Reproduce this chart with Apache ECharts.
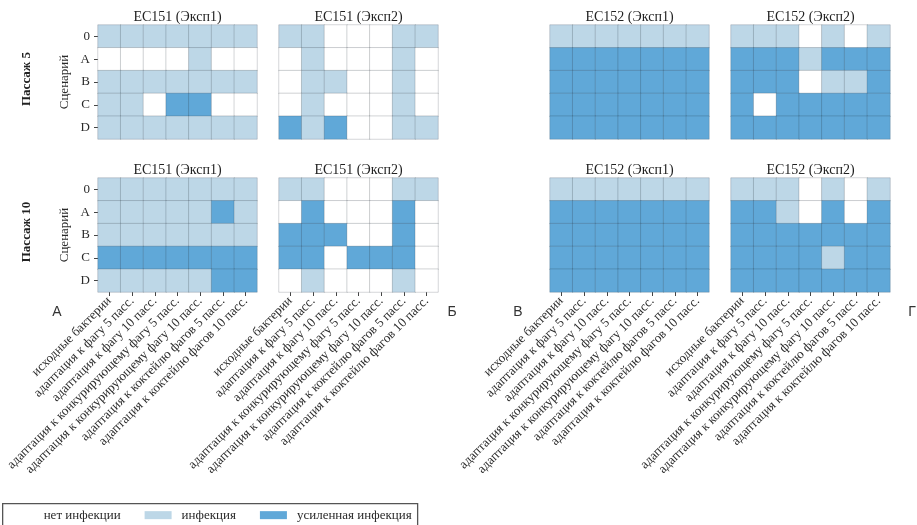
<!DOCTYPE html>
<html>
<head>
<meta charset="utf-8">
<script src="https://cdn.jsdelivr.net/npm/echarts@6/dist/echarts.min.js"></script>
<style>
  html, body { margin: 0; padding: 0; background: #fff; }
  #chart { width: 917px; height: 525px; }
</style>
</head>
<body>
<div id="chart"></div>
<script>
// Scenarios (rows) and adaptation conditions (columns)
const scenarios = ['0', 'A', 'B', 'C', 'D'];
const conditions = [
  'исходные бактерии',
  'адаптация к фагу 5 пасс.',
  'адаптация к фагу 10 пасс.',
  'адаптация к конкурирующему фагу 5 пасс.',
  'адаптация к конкурирующему фагу 10 пасс.',
  'адаптация к коктейлю фагов 5 пасс.',
  'адаптация к коктейлю фагов 10 пасс.'
];
const levelNames = ['нет инфекции', 'инфекция', 'усиленная инфекция'];

// Infection level per scenario row: 0 = none, 1 = infection, 2 = enhanced
const p5_ec151_exp1 = [
  [1, 1, 1, 1, 1, 1, 1],
  [0, 0, 0, 0, 1, 0, 0],
  [1, 1, 1, 1, 1, 1, 1],
  [1, 1, 0, 2, 2, 0, 0],
  [1, 1, 1, 1, 1, 1, 1]
];
const p5_ec151_exp2 = [
  [1, 1, 0, 0, 0, 1, 1],
  [0, 1, 0, 0, 0, 1, 0],
  [0, 1, 1, 0, 0, 1, 0],
  [0, 1, 0, 0, 0, 1, 0],
  [2, 1, 2, 0, 0, 1, 1]
];
const p5_ec152_exp1 = [
  [1, 1, 1, 1, 1, 1, 1],
  [2, 2, 2, 2, 2, 2, 2],
  [2, 2, 2, 2, 2, 2, 2],
  [2, 2, 2, 2, 2, 2, 2],
  [2, 2, 2, 2, 2, 2, 2]
];
const p5_ec152_exp2 = [
  [1, 1, 1, 0, 1, 0, 1],
  [2, 2, 2, 1, 2, 2, 2],
  [2, 2, 2, 0, 1, 1, 2],
  [2, 0, 2, 2, 2, 2, 2],
  [2, 2, 2, 2, 2, 2, 2]
];
const p10_ec151_exp1 = [
  [1, 1, 1, 1, 1, 1, 1],
  [1, 1, 1, 1, 1, 2, 1],
  [1, 1, 1, 1, 1, 1, 1],
  [2, 2, 2, 2, 2, 2, 2],
  [1, 1, 1, 1, 1, 2, 2]
];
const p10_ec151_exp2 = [
  [1, 1, 0, 0, 0, 1, 1],
  [0, 2, 0, 0, 0, 2, 0],
  [2, 2, 2, 0, 0, 2, 0],
  [2, 2, 0, 2, 2, 2, 0],
  [0, 1, 0, 0, 0, 1, 0]
];
const p10_ec152_exp1 = [
  [1, 1, 1, 1, 1, 1, 1],
  [2, 2, 2, 2, 2, 2, 2],
  [2, 2, 2, 2, 2, 2, 2],
  [2, 2, 2, 2, 2, 2, 2],
  [2, 2, 2, 2, 2, 2, 2]
];
const p10_ec152_exp2 = [
  [1, 1, 1, 0, 1, 0, 1],
  [2, 2, 1, 0, 2, 0, 2],
  [2, 2, 2, 2, 2, 2, 2],
  [2, 2, 2, 2, 1, 2, 2],
  [2, 2, 2, 2, 2, 2, 2]
];

const panelTitles = ['EC151 (Эксп1)', 'EC151 (Эксп2)', 'EC152 (Эксп1)', 'EC152 (Эксп2)'];
const passageLabels = ['Пассаж 5', 'Пассаж 10'];
const panelLetters = ['А', 'Б', 'В', 'Г'];

const panels = [
  p5_ec151_exp1, p5_ec151_exp2, p5_ec152_exp1, p5_ec152_exp2,
  p10_ec151_exp1, p10_ec151_exp2, p10_ec152_exp1, p10_ec152_exp2
];

const SERIF = '"Liberation Serif", "DejaVu Serif", serif';
const COLORS = ['#ffffff', '#bdd7e7', '#60a8d8'];

// Layout of the 2 x 4 panel grid
const colLeft = [98, 279, 550, 731];
const rowTop = [25, 178];
const cellW = 159, cellH = 114;

const grids = [], xAxes = [], yAxes = [], series = [], titles = [];

panels.forEach((mat, i) => {
  const r = Math.floor(i / 4), c = i % 4;
  const isBottom = r === 1, isLeft = c === 0;
  grids.push({ left: colLeft[c], top: rowTop[r], width: cellW, height: cellH });
  xAxes.push({
    type: 'category', gridIndex: i, data: conditions,
    axisLine: { show: false },
    axisTick: { show: isBottom, alignWithLabel: true, length: 4, lineStyle: { color: '#444' } },
    axisLabel: {
      show: isBottom, rotate: 45, margin: 7, interval: 0,
      fontFamily: SERIF, fontSize: 13, color: '#2a2a2a'
    },
    splitLine: { show: false }
  });
  yAxes.push({
    type: 'category', gridIndex: i, data: scenarios, inverse: true,
    axisLine: { show: false },
    axisTick: { show: isLeft, alignWithLabel: true, length: 4, lineStyle: { color: '#444' } },
    axisLabel: { show: isLeft, margin: 8, fontFamily: SERIF, fontSize: 13, color: '#2a2a2a' },
    name: isLeft ? 'Сценарий' : '',
    nameLocation: 'middle', nameRotate: 90, nameGap: 27,
    nameTextStyle: { fontFamily: SERIF, fontSize: 13, color: '#2a2a2a' },
    splitLine: { show: false }
  });
  const data = [];
  mat.forEach((row, yi) => row.forEach((v, xi) => data.push([xi, yi, v])));
  series.push({
    type: 'heatmap', xAxisIndex: i, yAxisIndex: i, data: data,
    itemStyle: { borderColor: 'rgba(40,50,60,0.2)', borderWidth: 1 },
    emphasis: { disabled: true }
  });
  titles.push({
    text: panelTitles[c],
    left: colLeft[c] + cellW / 2, top: rowTop[r] - 15,
    textAlign: 'center', padding: 0,
    textStyle: { fontFamily: SERIF, fontSize: 14, fontWeight: 'normal', color: '#222' }
  });
});

// Panel letters under the bottom row
const letterX = [57, 452, 518, 912];
letterX.forEach((x, k) => {
  titles.push({
    text: panelLetters[k], left: x, top: 305, textAlign: 'center', padding: 0,
    textStyle: { fontFamily: '"Liberation Sans", "DejaVu Sans", sans-serif', fontSize: 14, fontWeight: 'normal', color: '#333' }
  });
});

const chart = echarts.init(document.getElementById('chart'), null, { renderer: 'canvas' });
chart.setOption({
  animation: false,
  backgroundColor: '#fff',
  title: titles,
  grid: grids,
  xAxis: xAxes,
  yAxis: yAxes,
  series: series,
  visualMap: {
    type: 'piecewise', orient: 'horizontal',
    seriesIndex: series.map((s, k) => k), dimension: 2,
    pieces: levelNames.map((name, v) => ({ value: v, label: name, color: COLORS[v] })),
    left: 2, top: 503,
    itemWidth: 27, itemHeight: 8, itemGap: 24, textGap: 10, itemSymbol: 'rect',
    selectedMode: false,
    borderColor: '#555', borderWidth: 1.3, backgroundColor: '#fff',
    padding: [5, 6, 12, 4],
    textStyle: { fontFamily: SERIF, fontSize: 13, color: '#2a2a2a' }
  },
  graphic: passageLabels.map((t, r) => ({
    type: 'text', x: 27, y: rowTop[r] + cellH / 2 - 3, rotation: Math.PI / 2,
    style: {
      text: t, font: 'bold 13px "Liberation Serif", serif', fill: '#222',
      textAlign: 'center', textVerticalAlign: 'middle'
    }
  }))
});
</script>
</body>
</html>
